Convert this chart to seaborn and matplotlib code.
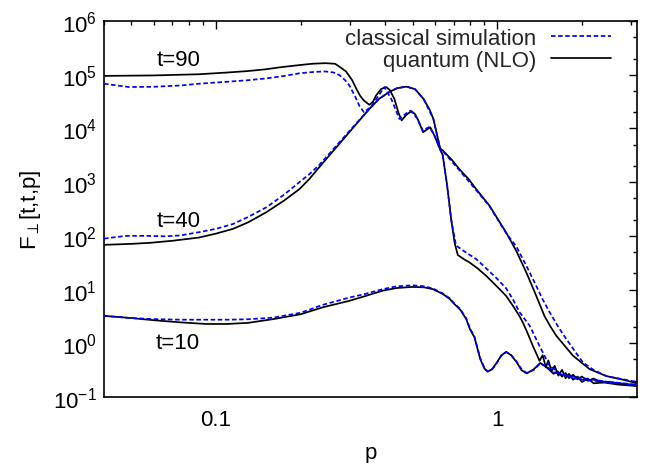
import matplotlib
matplotlib.use("Agg")
import matplotlib.pyplot as plt
import seaborn as sns
from matplotlib.ticker import LogLocator, FixedLocator, FixedFormatter, NullFormatter, LogFormatterMathtext

# ---------------- data ----------------
# quantum (NLO), t = 90
p_q90 = [0.04, 0.06, 0.087, 0.11, 0.13, 0.15, 0.17, 0.198, 0.22, 0.245, 0.265, 0.275, 0.29,
         0.305, 0.316, 0.326, 0.336, 0.351, 0.362, 0.371, 0.3865, 0.403, 0.415, 0.431, 0.445,
         0.457, 0.475, 0.495, 0.51, 0.522, 0.545, 0.562, 0.578, 0.60, 0.625, 0.64, 0.664, 0.686,
         0.705, 0.724, 0.76, 0.797, 0.85, 0.914, 1.019, 1.076, 1.137, 1.2, 1.233, 1.28, 1.339,
         1.38, 1.414, 1.45, 1.49, 1.52, 1.56, 1.6, 1.65, 1.7, 1.75, 1.8, 1.86, 1.93, 2.0, 2.1,
         2.2, 2.4, 2.7, 3.14]
F_q90 = [9.5e4, 9.7e4, 1.02e5, 1.1e5, 1.17e5, 1.26e5, 1.38e5, 1.51e5, 1.6e5, 1.64e5, 1.6e5,
         1.41e5, 1.15e5, 7.9e4, 5.4e4, 4.0e4, 3.3e4, 2.75e4, 3.16e4, 4.1e4, 5.4e4, 5.9e4, 5.2e4,
         3.55e4, 2.0e4, 1.41e4, 1.78e4, 2.1e4, 1.86e4, 1.48e4, 8.5e3, 9.5e3, 1.05e4, 7.1e3,
         4.2e3, 3.2e3, 850, 204, 76, 44, 37, 32, 25, 18, 10.2, 7.6, 5.0, 3.2, 2.45, 1.58, 0.89,
         0.63, 0.47, 0.60, 0.355, 0.48, 0.30, 0.38, 0.25, 0.32, 0.224, 0.27, 0.21, 0.24, 0.19,
         0.22, 0.18, 0.186, 0.17, 0.16]

# classical simulation, t = 90
p_c90 = [0.04, 0.049, 0.06, 0.075, 0.087, 0.11, 0.13, 0.15, 0.175, 0.2, 0.225, 0.245, 0.262,
         0.275, 0.288, 0.298, 0.312, 0.324, 0.336, 0.355, 0.375, 0.397, 0.42, 0.449, 0.47, 0.49,
         0.505, 0.52, 0.545, 0.56, 0.575, 0.60, 0.625, 0.64, 0.664, 0.686, 0.714, 0.77, 0.842,
         0.92, 1.0, 1.076, 1.137, 1.2, 1.303, 1.414, 1.535, 1.7, 2.0, 2.5, 3.14]
F_c90 = [6.8e4, 5.9e4, 5.96e4, 6.3e4, 6.8e4, 7.4e4, 7.9e4, 8.5e4, 9.5e4, 1.07e5, 1.13e5, 1.15e5,
         1.1e5, 9.8e4, 7.9e4, 6.3e4, 4.0e4, 2.6e4, 2.0e4, 2.5e4, 3.8e4, 5.9e4, 3.55e4, 1.5e4,
         1.82e4, 2.14e4, 1.86e4, 1.5e4, 8.9e3, 1.0e4, 1.07e4, 7.1e3, 4.2e3, 3.2e3, 850, 200, 66,
         50, 37, 24, 15.8, 10.5, 6.6, 3.8, 2.14, 0.89, 0.38, 0.26, 0.224, 0.19, 0.166]

# quantum (NLO), t = 40
p_q40 = [0.04, 0.05, 0.058, 0.07, 0.087, 0.1, 0.115, 0.13, 0.151, 0.175, 0.198, 0.215, 0.233,
         0.26, 0.29, 0.32, 0.351, 0.38, 0.414, 0.44, 0.476, 0.51, 0.547, 0.575, 0.593, 0.627,
         0.64, 0.69, 0.734, 0.79, 0.842, 0.939, 1.0, 1.076, 1.17, 1.268, 1.37, 1.473, 1.55,
         1.622, 1.74, 1.858, 2.0, 2.131, 2.443, 2.8, 3.14]
F_q40 = [68, 71, 74, 81, 93, 110, 135, 178, 275, 457, 741, 1150, 1900, 3700, 7200, 1.32e4,
         2.3e4, 3.55e4, 4.8e4, 5.6e4, 6.0e4, 5.4e4, 3.55e4, 2.24e4, 1.5e4, 4.2e3, 3.9e3, 2.6e3,
         1.74e3, 1150, 741, 363, 214, 115, 52, 21, 8.1, 3.2, 2.0, 1.38, 0.89, 0.59, 0.43, 0.33,
         0.245, 0.21, 0.18]

# classical simulation, t = 40
p_c40 = [0.04, 0.048, 0.057, 0.066, 0.075, 0.087, 0.1, 0.115, 0.13, 0.151, 0.175, 0.198, 0.215,
         0.233, 0.26, 0.29, 0.32, 0.351, 0.38, 0.414, 0.44, 0.476, 0.51, 0.547, 0.593, 0.627,
         0.64, 0.734, 0.842, 0.939, 1.076, 1.17, 1.268, 1.339, 1.45, 1.535, 1.65, 1.76, 1.9,
         2.017, 2.2, 2.443, 2.8, 3.14]
F_c40 = [89, 100, 100, 98, 102, 117, 135, 166, 224, 339, 589, 1000, 1410, 2090, 3980, 7590,
         1.35e4, 2.3e4, 3.55e4, 4.8e4, 5.6e4, 6.0e4, 5.4e4, 3.55e4, 1.5e4, 4.2e3, 3.8e3, 1.66e3,
         708, 355, 112, 63, 28, 15.8, 6.6, 3.8, 2.0, 1.2, 0.68, 0.44, 0.32, 0.245, 0.214, 0.19]

# quantum (NLO), t = 10
p_q10 = [0.04, 0.05, 0.06, 0.075, 0.092, 0.11, 0.13, 0.16, 0.2, 0.24, 0.298, 0.34, 0.392, 0.44,
         0.5, 0.55, 0.59, 0.64, 0.68, 0.695, 0.74, 0.776, 0.80, 0.83, 0.87, 0.90, 0.924, 0.96,
         0.997, 1.035, 1.076, 1.12, 1.174, 1.22, 1.274, 1.35, 1.422, 1.5, 1.586, 1.64, 1.7, 1.75,
         1.8, 1.86, 1.93, 2.0, 2.1, 2.2, 2.35, 2.5, 2.8, 3.14]
F_q10 = [3.24, 2.95, 2.69, 2.45, 2.29, 2.29, 2.4, 2.82, 3.47, 4.68, 6.17, 7.59, 9.55, 10.7, 11.2,
         11.0, 10.2, 8.3, 6.6, 5.75, 4.17, 2.82, 1.82, 1.29, 0.51, 0.34, 0.295, 0.33, 0.44, 0.60,
         0.69, 0.60, 0.44, 0.316, 0.275, 0.33, 0.43, 0.355, 0.27, 0.30, 0.24, 0.28, 0.224, 0.26,
         0.214, 0.24, 0.20, 0.22, 0.19, 0.19, 0.174, 0.162]

# classical simulation, t = 10
p_c10 = [0.04, 0.05, 0.06, 0.075, 0.092, 0.11, 0.13, 0.16, 0.2, 0.24, 0.298, 0.34, 0.392, 0.44,
         0.5, 0.55, 0.59, 0.64, 0.68, 0.695, 0.74, 0.776, 0.80, 0.83, 0.87, 0.90, 0.924, 0.96,
         0.997, 1.035, 1.076, 1.12, 1.174, 1.22, 1.274, 1.35, 1.422, 1.5, 1.586, 1.7, 1.8, 1.9,
         2.0, 2.2, 2.5, 2.8, 3.14]
F_c10 = [3.24, 2.95, 2.82, 2.75, 2.75, 2.75, 2.8, 3.0, 3.7, 5.2, 7.1, 8.3, 10.2, 11.5, 12.0, 11.5,
         10.5, 8.5, 6.8, 5.9, 4.3, 2.9, 1.9, 1.33, 0.53, 0.35, 0.30, 0.33, 0.43, 0.59, 0.69, 0.61,
         0.45, 0.33, 0.28, 0.32, 0.42, 0.37, 0.29, 0.26, 0.24, 0.22, 0.21, 0.2, 0.19, 0.18, 0.17]

curve_labels = ["t=90", "t=40", "t=10"]
label_p = [0.0734, 0.0734, 0.0734]
label_F = [1.95e5, 190, 1.05]
legend_names = ["classical simulation", "quantum (NLO)"]
xtick_vals = [0.1, 1]
xtick_text = ["0.1", "1"]

# ---------------- style ----------------
sns.set_theme(style="white")
plt.rcParams['font.family'] = ['Liberation Sans', 'DejaVu Sans']
plt.rcParams['mathtext.fontset'] = 'custom'
plt.rcParams['mathtext.rm'] = 'Liberation Sans'
plt.rcParams['mathtext.it'] = 'Liberation Sans:italic'
plt.rcParams['mathtext.default'] = 'regular'
plt.rcParams['axes.unicode_minus'] = False

FS = 16
fig = plt.figure(figsize=(6.48, 4.64), dpi=100)
ax = fig.add_axes([104/648, 1-398/464, (637-104)/648, (398-22)/464])

blue = '#0000ff'
dash = (0, (2.6, 1.5))
lw = 1.25

quantum = [(p_q90, F_q90), (p_q40, F_q40), (p_q10, F_q10)]
classical = [(p_c90, F_c90), (p_c40, F_c40), (p_c10, F_c10)]

for i, (p, F) in enumerate(quantum):
    sns.lineplot(x=p, y=F, ax=ax, color='black', linewidth=lw, sort=False, estimator=None,
                 label=legend_names[1] if i == 0 else None, zorder=3)
for i, (p, F) in enumerate(classical):
    sns.lineplot(x=p, y=F, ax=ax, color=blue, linewidth=lw, linestyle=dash, sort=False,
                 estimator=None, label=legend_names[0] if i == 0 else None, zorder=4)

ax.set_xscale('log')
ax.set_yscale('log')
ax.set_xlim(0.04, 3.14)
ax.set_ylim(0.1, 1e6)

ax.xaxis.set_major_locator(FixedLocator(xtick_vals))
ax.xaxis.set_major_formatter(FixedFormatter(xtick_text))
ax.xaxis.set_minor_locator(LogLocator(base=10, subs=[2, 3, 4, 5, 6, 7, 8, 9], numticks=20))
ax.xaxis.set_minor_formatter(NullFormatter())
ax.yaxis.set_major_locator(LogLocator(base=10, numticks=20))
ax.yaxis.set_major_formatter(LogFormatterMathtext())
ax.yaxis.set_minor_locator(LogLocator(base=10, subs=[2, 5], numticks=20))
ax.yaxis.set_minor_formatter(NullFormatter())

ax.tick_params(which='both', direction='in', top=True, right=True, colors='black',
               labelsize=FS, width=1.0)
ax.tick_params(which='major', length=6)
ax.tick_params(which='minor', length=3)
ax.tick_params(axis='y', which='major', pad=5)
ax.tick_params(axis='x', which='major', pad=9)

for s in ax.spines.values():
    s.set_color('black')
    s.set_linewidth(1.2)

for txt, x, y in zip(curve_labels, label_p, label_F):
    ax.text(x, y, txt, ha='center', va='center', fontsize=FS, color='black')

ax.set_ylabel(r"F$_{\perp}$[t,t,p]", fontsize=FS, color='black')
ax.yaxis.set_label_coords(-0.115, 0.5)
ax.set_xlabel("p", fontsize=FS, color='black')
ax.xaxis.set_label_coords(0.5, -0.12)

handles, labels = ax.get_legend_handles_labels()
order = [labels.index(legend_names[0]), labels.index(legend_names[1])]
ax.legend([handles[k] for k in order], [labels[k] for k in order],
          loc='upper right', bbox_to_anchor=(0.951, 0.981), borderaxespad=0, borderpad=0,
          frameon=False, markerfirst=False, fontsize=FS, handlelength=2.7,
          handletextpad=0.65, labelspacing=0.03)

fig.savefig("out.png", dpi=100)
